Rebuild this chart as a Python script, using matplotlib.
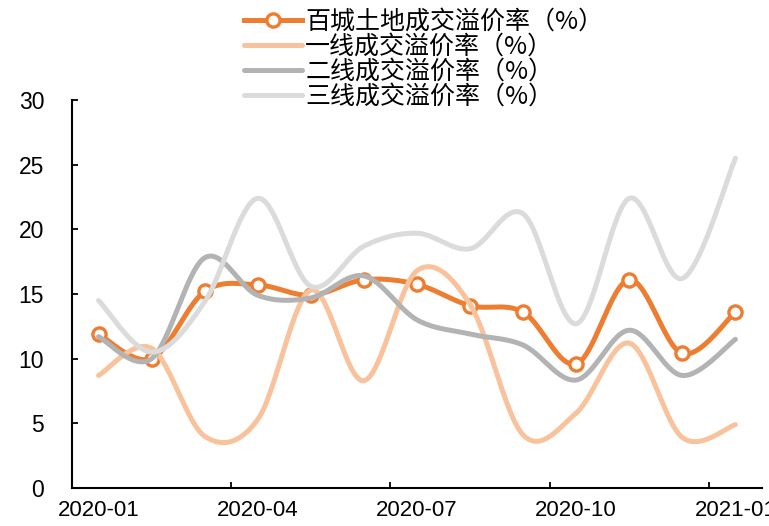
import numpy as np
import matplotlib
matplotlib.use("Agg")
from matplotlib import pyplot as plt

plt.rcParams['font.family'] = ['Liberation Sans', 'DejaVu Sans']

# Monthly land premium rates, 2020-01 .. 2021-01
months = ["2020-01", "2020-02", "2020-03", "2020-04", "2020-05", "2020-06", "2020-07",
          "2020-08", "2020-09", "2020-10", "2020-11", "2020-12", "2021-01"]
city100 = [11.9, 10.0, 15.2, 15.7, 14.9, 16.1, 15.75, 14.1, 13.6, 9.6, 16.1, 10.4, 13.6]
tier1 = [8.7, 10.8, 4.0, 5.3, 15.3, 8.3, 16.8, 14.2, 4.1, 5.8, 11.2, 3.9, 4.9]
tier2 = [11.7, 10.0, 17.8, 14.9, 14.7, 16.4, 13.0, 11.9, 11.05, 8.35, 12.2, 8.7, 11.5]
tier3 = [14.5, 10.5, 14.4, 22.4, 15.6, 18.7, 19.7, 18.5, 21.2, 12.7, 22.4, 16.2, 25.5]

labels = ["百城土地成交溢价率（%）", "一线成交溢价率（%）", "二线成交溢价率（%）", "三线成交溢价率（%）"]
colors = ["#ED7D31", "#F8C39C", "#B3B3B3", "#DBDBDB"]


def smooth(y, n=30):
    # Catmull-Rom style Bezier through every point, like Excel's smoothed line
    y = np.asarray(y, dtype=float)
    x = np.arange(len(y), dtype=float)
    xs, ys = [], []
    for i in range(len(y) - 1):
        p0 = (x[max(i - 1, 0)], y[max(i - 1, 0)])
        p1 = (x[i], y[i])
        p2 = (x[i + 1], y[i + 1])
        p3 = (x[min(i + 2, len(y) - 1)], y[min(i + 2, len(y) - 1)])
        c1 = (p1[0] + (p2[0] - p0[0]) / 6, p1[1] + (p2[1] - p0[1]) / 6)
        c2 = (p2[0] - (p3[0] - p1[0]) / 6, p2[1] - (p3[1] - p1[1]) / 6)
        t = np.linspace(0, 1, n, endpoint=(i == len(y) - 2))
        a, b, c, d = (1 - t) ** 3, 3 * t * (1 - t) ** 2, 3 * t ** 2 * (1 - t), t ** 3
        xs.append(a * p1[0] + b * c1[0] + c * c2[0] + d * p2[0])
        ys.append(a * p1[1] + b * c1[1] + c * c2[1] + d * p2[1])
    return np.concatenate(xs), np.concatenate(ys)


fig = plt.figure(figsize=(7.69, 5.26), dpi=100)
ax = fig.add_axes([72 / 769, 38 / 526, 690 / 769, 388 / 526])

x = np.arange(len(months))
handles = []
for k, (vals, col, lab) in enumerate(zip([city100, tier1, tier2, tier3], colors, labels)):
    sx, sy = smooth(vals)
    ax.plot(sx, sy, color=col, lw=3.6, solid_capstyle='round', zorder=2 + k)
    if k == 0:
        ax.plot(x, vals, ls='none', marker='o', ms=9.5, mfc='white', mec=col, mew=2.4, zorder=2 + k)
        h, = ax.plot([], [], color=col, lw=3.6, marker='o', ms=9.5, mfc='white', mec=col, mew=2.4)
    else:
        h, = ax.plot([], [], color=col, lw=3.6, solid_capstyle='round')
    handles.append(h)

ax.set_xlim(-0.5, len(months) - 0.5)
ax.set_ylim(0, 30)
ax.set_yticks(np.arange(0, 31, 5))

# tick marks on category boundaries, labels on every third month
ax.set_xticks(np.arange(-0.5, len(months), 3))
ax.set_xticklabels([])
ax.set_xticks(x[::3], minor=True)
ax.set_xticklabels(months[::3], minor=True)
ax.tick_params(axis='x', which='major', direction='in', length=4.5, width=1.3)
ax.tick_params(axis='x', which='minor', length=0, pad=9, labelsize=16)
ax.tick_params(axis='y', direction='in', length=4.5, width=1.3, pad=20, labelsize=16.5)

for side in ['top', 'right']:
    ax.spines[side].set_visible(False)
for side in ['left', 'bottom']:
    ax.spines[side].set_linewidth(1.5)

fig.legend(handles, labels, loc='upper left', bbox_to_anchor=(244 / 769, 1 - 9 / 526),
           frameon=False, prop={'family': ['Noto Sans CJK SC', 'DejaVu Sans'], 'size': 18},
           handlelength=2.3, handletextpad=0.15, labelspacing=-0.05, borderpad=0, borderaxespad=0)

fig.savefig("out.png", dpi=100)
